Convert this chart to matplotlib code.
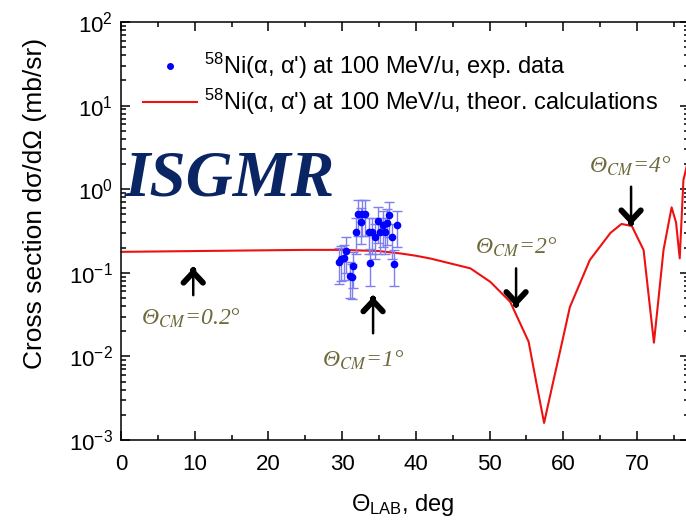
import matplotlib
matplotlib.use("Agg")
import matplotlib.pyplot as plt
from matplotlib.lines import Line2D
from matplotlib.ticker import LogLocator, MultipleLocator, NullFormatter
import numpy as np

plt.rcParams['font.family'] = ['Liberation Sans', 'DejaVu Sans']
plt.rcParams['mathtext.fontset'] = 'custom'
plt.rcParams['mathtext.rm'] = 'Liberation Sans'
plt.rcParams['mathtext.it'] = 'Liberation Sans:italic'
plt.rcParams['mathtext.bf'] = 'Liberation Sans:bold'

# theoretical angular distribution
theta_theor = [0, 5, 10, 15, 20, 25, 30, 35, 38, 40, 42, 44.6, 47.4, 50.1, 52.8,
               55.3, 56.3, 57.4, 58.5, 59.7, 60.9, 63.6, 66.4, 67.9, 69.3, 70.9,
               71.6, 72.3, 73.0, 73.6, 74.7, 75.3, 75.8, 76.3, 76.7, 77.1]
xs_theor = [0.178, 0.180, 0.182, 0.184, 0.186, 0.188, 0.188, 0.182, 0.170, 0.160,
            0.148, 0.130, 0.113, 0.078, 0.045, 0.015, 0.0051, 0.0016, 0.0044,
            0.013, 0.039, 0.142, 0.30, 0.384, 0.363, 0.187, 0.052, 0.0146, 0.057,
            0.187, 0.607, 0.40, 0.149, 1.29, 1.8, 2.5]

# measured points
theta_exp = [29.6, 29.9, 30.2, 30.5, 31.0, 31.3, 31.5, 31.9, 32.2, 32.5, 32.7, 33.1,
             33.6, 33.8, 34.0, 34.5, 34.8, 35.1, 35.5, 35.8, 36.1, 36.4, 36.7, 37.1, 37.4]
xs_exp = [0.136, 0.145, 0.149, 0.184, 0.092, 0.088, 0.121, 0.31, 0.505, 0.41, 0.505,
          0.505, 0.31, 0.130, 0.31, 0.266, 0.42, 0.31, 0.373, 0.31, 0.397, 0.49,
          0.266, 0.127, 0.373]
xs_err = [0.062, 0.066, 0.068, 0.085, 0.042, 0.040, 0.055, 0.14, 0.23, 0.19, 0.23,
          0.23, 0.14, 0.06, 0.14, 0.12, 0.19, 0.14, 0.17, 0.14, 0.18, 0.22, 0.12,
          0.058, 0.17]

# CM angle markers
cm_labels = ['0.2°', '1°', '2°', '4°']
cm_arrow_x = [9.8, 34.2, 53.6, 69.2]
cm_arrow_tail = [0.054, 0.0189, 0.113, 1.07]
cm_arrow_tip = [0.114, 0.0518, 0.0393, 0.373]
cm_text_x = [9.5, 32.8, 53.6, 69.1]
cm_text_y = [0.0288, 0.00906, 0.204, 1.90]

fig = plt.figure(figsize=(6.86, 5.2), dpi=100)
ax = fig.add_axes([121 / 686, 80 / 520, 568 / 686, 418 / 520])

ax.errorbar(theta_exp, xs_exp, yerr=xs_err, fmt='o', color='blue', ms=4.5,
            ecolor='#7f7ff0', elinewidth=1.0, capsize=3.6, capthick=1.0, zorder=3)
ax.plot(theta_theor, xs_theor, color='#ee1111', lw=1.5, zorder=2)

ax.set_yscale('log')
ax.set_xlim(0, 568 / 7.371)
ax.set_ylim(1e-3, 1e2)
ax.xaxis.set_major_locator(MultipleLocator(10))
ax.xaxis.set_minor_locator(MultipleLocator(5))
ax.yaxis.set_major_locator(LogLocator(base=10, numticks=10))
ax.yaxis.set_minor_locator(LogLocator(base=10, subs=np.arange(2, 10), numticks=20))
ax.yaxis.set_minor_formatter(NullFormatter())
ax.tick_params(which='both', direction='in', top=True, right=True, width=1.1)
ax.tick_params(which='major', length=6.5, labelsize=16)
ax.tick_params(axis='x', which='major', pad=10)
ax.tick_params(axis='y', which='major', pad=6)
ax.tick_params(which='minor', length=3.6)
for sp in ax.spines.values():
    sp.set_linewidth(1.1)

ax.set_ylabel('Cross section dσ/dΩ (mb/sr)', fontsize=19)
ax.yaxis.set_label_coords(-0.13, 0.565)
ax.set_xlabel('Θ$_{\\mathregular{LAB}}$, deg', fontsize=17)
ax.xaxis.set_label_coords(0.496, -0.125)

handles = [Line2D([], [], marker='o', color='blue', ls='none', ms=4),
           Line2D([], [], color='#ee1111', lw=1.5)]
labels = ["$^{58}$Ni(α, α') at 100 MeV/u, exp. data",
          "$^{58}$Ni(α, α') at 100 MeV/u, theor. calculations"]
fig.legend(handles, labels, loc='upper left', bbox_to_anchor=(143 / 686, 1 - 51 / 520),
           frameon=False, fontsize=17, borderpad=0, borderaxespad=0,
           handlelength=2.3, handletextpad=0.3, labelspacing=0.25)

ax.text(0.5, 1.3, 'ISGMR', fontsize=47, family='Liberation Serif', weight='bold',
        style='italic', color='#0a2563', ha='left', va='center')

olive = '#6e6a3c'
for lab, ax_x, tail, tip, tx, ty in zip(cm_labels, cm_arrow_x, cm_arrow_tail,
                                         cm_arrow_tip, cm_text_x, cm_text_y):
    ax.annotate('', xy=(ax_x, tip), xytext=(ax_x, tail),
                arrowprops=dict(arrowstyle='-', lw=1.8, color='black',
                                shrinkA=0, shrinkB=0))
    sgn = 1 if tip > tail else -1
    ax.annotate('', xy=(ax_x, tip), xytext=(0, -sgn * 2), textcoords='offset points',
                arrowprops=dict(arrowstyle='->,head_length=0.75,head_width=0.7',
                                lw=4.2, color='black', shrinkA=0, shrinkB=0))
    ax.text(tx, ty, 'Θ$_{CM}$=' + lab, fontsize=17, color=olive, ha='center',
            va='center', family='Liberation Serif', style='italic',
            math_fontfamily='stix')

fig.savefig('out.png', dpi=100)
